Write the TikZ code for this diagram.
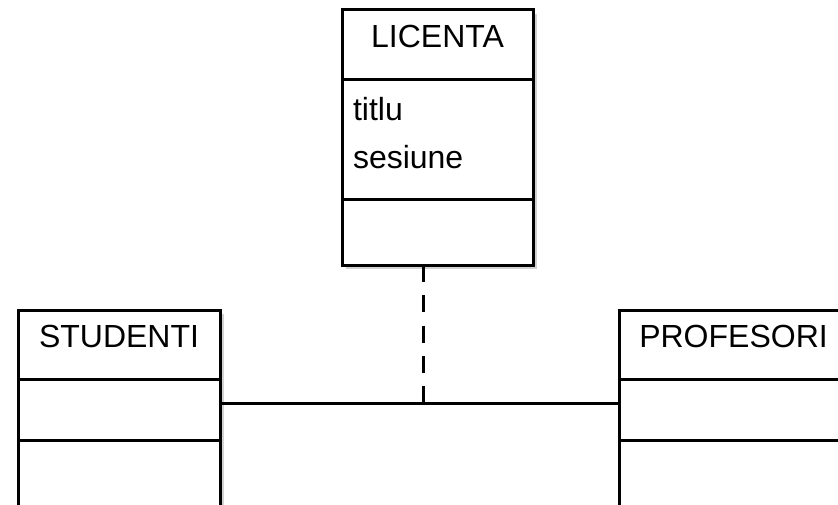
\documentclass[tikz,border=0pt]{standalone}
\usepackage{fontspec}
\setmainfont{Liberation Sans}
\usetikzlibrary{positioning,shadows}
\colorlet{box edge}{black}
\colorlet{box shadow}{black!18}
\tikzset{part/.style={draw=box edge, line width=3pt, fill=white, outer sep=0pt, inner sep=0pt,
        drop shadow={shadow xshift=4pt, shadow yshift=-4pt, fill=box shadow, opacity=1}},
    classname/.style={part, minimum height=70pt, text depth=17pt},
    attrs/.style={part, align=left, inner xsep=11pt, text depth=63pt},
    assoc/.style={draw=box edge, line width=2.5pt},
    link/.style={draw=box edge, line width=2.5pt, dash pattern=on 17pt off 13.25pt}}

\begin{document}
\begin{tikzpicture}[x=1pt, y=-1pt, font=\fontsize{32}{48}\selectfont]
    \useasboundingbox (0,0) rectangle (838,505);
    \clip (0,0) rectangle (838,505);
    % licenta
    \node[classname, minimum width=191pt] (licenta) at (437.5,45) {LICENTA};
    \node[attrs, minimum width=191pt, text width=169pt, minimum height=120pt, below=0pt of licenta] (licenta-attr) {titlu\\sesiune};
    \node[part, minimum width=191pt, minimum height=65pt, below=0pt of licenta-attr] (licenta-ops) {};
    % studenti
    \node[classname, minimum width=202pt, minimum height=69pt] (studenti) at (119,344.5) {STUDENTI};
    \node[part, minimum width=202pt, minimum height=61pt, below=0pt of studenti] (studenti-attr) {};
    \node[part, minimum width=202pt, minimum height=100pt, below=0pt of studenti-attr] (studenti-ops) {};
    % profesori
    \node[classname, minimum width=229pt, minimum height=69pt] (profesori) at (733.5,344.5) {PROFESORI};
    \node[part, minimum width=229pt, minimum height=61pt, below=0pt of profesori] (profesori-attr) {};
    \node[part, minimum width=229pt, minimum height=100pt, below=0pt of profesori-attr] (profesori-ops) {};
    % asociere
    \coordinate[yshift=6pt] (assoc-left) at (studenti-attr.east);
    \coordinate[yshift=6pt] (assoc-right) at (profesori-attr.west);
    \draw[assoc] (assoc-left) -- (assoc-right);
    \coordinate[xshift=-14pt] (link-top) at (licenta-ops.south);
    \draw[link] (link-top) -- (link-top |- assoc-left);
\end{tikzpicture}
\end{document}
